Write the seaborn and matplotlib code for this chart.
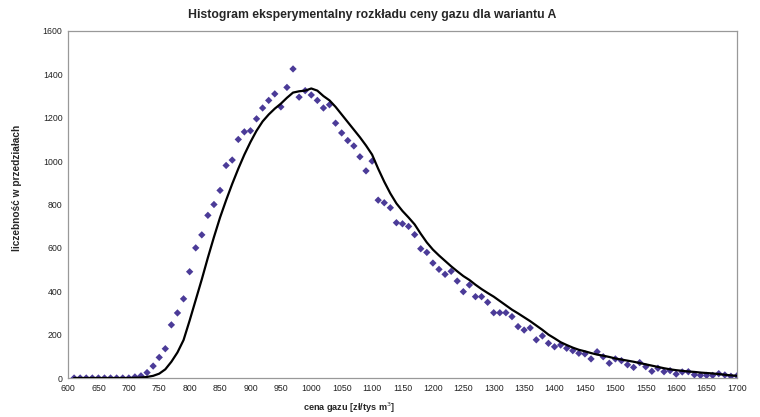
import numpy as np
import pandas as pd
import matplotlib
matplotlib.use("Agg")
import matplotlib.pyplot as plt
import seaborn as sns

# ceny gazu (środki przedziałów)
cena = list(range(610, 1710, 10))

# liczebności z symulacji (punkty)
licz_pkt = [0, 0, 0, 0, 0, 0, 0, 0, 0, 0,
            5, 10, 25, 55, 95, 135, 245, 300, 365, 490,
            600, 660, 750, 800, 865, 980, 1005, 1100, 1135, 1140,
            1195, 1245, 1280, 1310, 1250, 1340, 1425, 1295, 1325, 1305,
            1280, 1245, 1260, 1175, 1130, 1095, 1070, 1020, 955, 1000,
            820, 808, 785, 716, 711, 699, 661, 596, 579, 530,
            501, 478, 492, 447, 398, 429, 375, 375, 349, 301,
            301, 301, 283, 237, 221, 231, 176, 194, 160, 144,
            152, 137, 126, 114, 111, 88, 121, 98, 68, 88,
            80, 61, 49, 71, 52, 31, 45, 29, 34, 18,
            28, 29, 15, 12, 12, 12, 20, 14, 8, 10]

# rozkład teoretyczny (linia)
licz_lin = [0, 0, 0, 0, 0, 0, 0, 0, 0, 0,
            1, 2, 5, 10, 20, 40, 75, 118, 175, 265,
            360, 455, 555, 650, 740, 820, 895, 965, 1030, 1088,
            1140, 1183, 1215, 1242, 1265, 1292, 1316, 1322, 1325, 1335,
            1325, 1300, 1280, 1250, 1215, 1180, 1145, 1110, 1072, 1030,
            965, 905, 851, 805, 770, 740, 708, 665, 625, 592,
            565, 540, 515, 492, 470, 452, 430, 410, 392, 375,
            355, 335, 315, 298, 280, 262, 242, 222, 200, 183,
            165, 152, 140, 130, 123, 115, 108, 103, 97, 90,
            85, 80, 75, 69, 63, 57, 51, 45, 40, 36,
            33, 30, 28, 25, 23, 21, 18, 15, 12, 10]

df = pd.DataFrame({"cena": cena, "pkt": licz_pkt, "lin": licz_lin})

sns.set_style("white")
plt.rcParams["font.family"] = ["Liberation Sans", "DejaVu Sans"]

fig = plt.figure(figsize=(7.6, 4.17), dpi=100)
ax = fig.add_axes([68 / 760, 1 - 378 / 417, (737 - 68) / 760, (378 - 31) / 417])

sns.scatterplot(data=df, x="cena", y="pkt", marker="D", s=14,
                color="#4b3b98", edgecolor="none", ax=ax, zorder=3)
sns.lineplot(data=df, x="cena", y="lin", color="black", linewidth=1.6,
             ax=ax, zorder=4)

ax.set_xlim(600, 1700)
ax.set_ylim(0, 1600)
ax.set_xticks(range(600, 1701, 50))
ax.set_yticks(range(0, 1601, 200))
ax.tick_params(labelsize=6.3, colors="#222222", length=0, pad=4)

for s in ax.spines.values():
    s.set_color("#999999")
    s.set_linewidth(0.9)

# tytuł i podpisy osi przesunięte w lewo jak w oryginale
fig.text(372 / 760, 1 - 15 / 417,
         "Histogram eksperymentalny rozkładu ceny gazu dla wariantu A",
         fontsize=8.8, fontweight="bold", ha="center", va="center")
fig.text(349 / 760, 1 - 408 / 417, "cena gazu [zł/tys m$^3$]",
         fontsize=6.6, fontweight="bold", ha="center", va="center")
fig.text(17 / 760, 1 - 188 / 417, "liczebność w przedziałach",
         fontsize=7.3, fontweight="bold", ha="center", va="center",
         rotation=90)
ax.set_xlabel("")
ax.set_ylabel("")

fig.savefig("out.png", dpi=100)
